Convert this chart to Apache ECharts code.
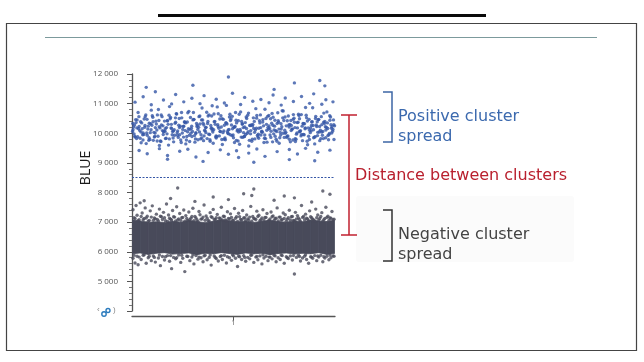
<!DOCTYPE html>
<html>
<head>
<meta charset="utf-8">
<style>
html,body{margin:0;padding:0;background:#fff;}
#chart{width:644px;height:362px;}
</style>
<script src="https://cdn.jsdelivr.net/npm/echarts@6/dist/echarts.min.js"></script>
</head>
<body>
<div id="chart"></div>
<script>
// ---------- data ----------
var yTicks = [4000, 5000, 6000, 7000, 8000, 9000, 10000, 11000, 12000];
var xCategoryLabel = '1';
var yAxisName = 'BLUE';
var thresholdValue = 8500;

var positivePoints = [
[1,10120],[3,9870],[5,10450],[7,10230],[9,9680],[11,10010],[13,10560],[15,9930],[17,10340],[19,10780],
[21,9760],[23,10190],[25,10620],[27,9590],[29,10280],[31,10050],[33,9820],[35,10410],[37,10900],[39,10160],
[41,9710],[43,10370],[45,10080],[47,9950],[49,10520],[51,10240],[53,9640],[55,10690],[57,10130],[59,9890],
[61,10470],[63,10020],[65,9780],[67,10310],[69,10850],[71,9910],[73,10200],[75,10580],[77,9730],[79,10110],
[81,10390],[83,9840],[85,10660],[87,10060],[89,9620],[91,10270],[93,10940],[95,9980],[97,10430],[99,10150],
[101,9690],[103,10350],[105,10040],[107,10720],[109,9860],[111,10210],[113,10500],[115,9570],[117,10090],[119,10300],
[121,9810],[123,10600],[125,10170],[127,9940],[129,10460],[131,10810],[133,9700],[135,10250],[137,10070],[139,10540],
[141,9900],[143,10330],[145,9660],[147,10140],[149,10750],[151,10000],[153,10420],[155,9800],[157,10260],[159,10630],
[161,9720],[163,10180],[165,10490],[167,9960],[169,10320],[171,10870],[173,9610],[175,10100],[177,10380],[179,9850],
[181,10570],[183,10030],[185,9750],[187,10290],[189,10680],[191,10110],[193,9920],[195,10440],[197,10220],[199,9790],
[2,9980],[4,10360],[6,10700],[8,9830],[10,10150],[12,10480],[14,9650],[16,10240],[18,10020],[20,10590],
[22,9870],[24,10310],[26,10800],[28,9740],[30,10090],[32,10410],[34,10190],[36,9600],[38,10530],[40,10060],
[42,9930],[44,10650],[46,10270],[48,9770],[50,10130],[52,10380],[54,9890],[56,10740],[58,10000],[60,10450],
[62,9700],[64,10230],[66,10560],[68,9950],[70,10340],[72,10080],[74,9820],[76,10620],[78,10170],[80,9660],
[82,10300],[84,10890],[86,9910],[88,10210],[90,10470],[92,9780],[94,10050],[96,10550],[98,10280],[100,9850],
[102,10700],[104,10120],[106,9630],[108,10400],[110,10020],[112,9960],[114,10610],[116,10260],[118,9730],[120,10160],
[122,10830],[124,9880],[126,10350],[128,10070],[130,9690],[132,10500],[134,10200],[136,9940],[138,10670],[140,10110],
[142,9800],[144,10420],[146,10030],[148,10760],[150,9860],[152,10250],[154,10580],[156,9710],[158,10140],[160,10370],
[162,9970],[164,10640],[166,10090],[168,9750],[170,10320],[172,10520],[174,9900],[176,10180],[178,10860],[180,9640],
[182,10230],[184,10460],[186,9820],[188,10060],[190,10400],[192,10720],[194,9950],[196,10290],[198,10130],
[0.5,10060],[2.5,10280],[4.5,9820],[6.5,10150],[8.5,10390],[10.5,9950],[12.5,10200],[14.5,10010],[16.5,9760],[18.5,10320],
[20.5,10540],[22.5,9900],[24.5,10110],[26.5,10430],[28.5,9720],[30.5,10250],[32.5,10070],[34.5,9980],[36.5,10610],[38.5,10180],
[40.5,9840],[42.5,10340],[44.5,10020],[46.5,10500],[48.5,9690],[50.5,10230],[52.5,10090],[54.5,10380],[56.5,9930],[58.5,10160],
[60.5,10700],[62.5,9810],[64.5,10270],[66.5,10040],[68.5,10450],[70.5,9750],[72.5,10190],[74.5,10330],[76.5,9960],[78.5,10580],
[80.5,10120],[82.5,9870],[84.5,10290],[86.5,10480],[88.5,9790],[90.5,10080],[92.5,10360],[94.5,10000],[96.5,10640],[98.5,9920],
[100.5,10210],[102.5,10440],[104.5,9740],[106.5,10130],[108.5,10310],[110.5,9890],[112.5,10550],[114.5,10050],[116.5,10260],[118.5,9800],
[120.5,10400],[122.5,10170],[124.5,9970],[126.5,10620],[128.5,10030],[130.5,9830],[132.5,10300],[134.5,10140],[136.5,10490],[138.5,9710],
[140.5,10240],[142.5,10060],[144.5,10370],[146.5,9940],[148.5,10520],[150.5,10100],[152.5,9860],[154.5,10280],[156.5,10430],[158.5,9770],
[160.5,10190],[162.5,10010],[164.5,10600],[166.5,9910],[168.5,10330],[170.5,10150],[172.5,9730],[174.5,10470],[176.5,10080],[178.5,10260],
[180.5,9880],[182.5,10390],[184.5,10040],[186.5,10560],[188.5,9820],[190.5,10220],[192.5,10350],[194.5,9990],[196.5,10170],[198.5,10450],
[0.8,10330],[2.8,9900],[4.8,10180],[6.8,10560],[8.8,10040],[10.8,9770],[12.8,10260],[14.8,10470],[16.8,9850],[18.8,10120],
[20.8,10390],[22.8,10010],[24.8,9740],[26.8,10220],[28.8,10620],[30.8,9960],[32.8,10150],[34.8,10430],[36.8,9810],[38.8,10300],
[40.8,10080],[42.8,10520],[44.8,9930],[46.8,10190],[48.8,10700],[50.8,9870],[52.8,10350],[54.8,10050],[56.8,9720],[58.8,10240],
[60.8,10460],[62.8,9990],[64.8,10130],[66.8,10580],[68.8,9840],[70.8,10280],[72.8,10020],[74.8,10400],[76.8,9780],[78.8,10170],
[80.8,10650],[82.8,9910],[84.8,10230],[86.8,10060],[88.8,10490],[90.8,9800],[92.8,10340],[94.8,10110],[96.8,9950],[98.8,10570],
[100.8,10200],[102.8,9760],[104.8,10420],[106.8,10070],[108.8,10310],[110.8,9890],[112.8,10160],[114.8,10680],[116.8,9980],[118.8,10250],
[120.8,10030],[122.8,10510],[124.8,9830],[126.8,10190],[128.8,10380],[130.8,9940],[132.8,10100],[134.8,10600],[136.8,9860],[138.8,10270],
[140.8,10440],[142.8,9730],[144.8,10140],[146.8,10320],[148.8,10000],[150.8,10550],[152.8,9900],[154.8,10210],[156.8,10090],[158.8,10470],
[160.8,9820],[162.8,10360],[164.8,10050],[166.8,10630],[168.8,9960],[170.8,10180],[172.8,10410],[174.8,9790],[176.8,10260],[178.8,10120],
[180.8,10500],[182.8,9920],[184.8,10230],[186.8,10040],[188.8,10370],[190.8,9850],[192.8,10160],[194.8,10590],[196.8,10010],[198.8,10290],
[1.6,10210],[3.6,10460],[5.6,9880],[7.6,10090],[9.6,10350],[11.6,9960],[13.6,10620],[15.6,10140],[17.6,9790],[19.6,10270],
[21.6,10030],[23.6,10410],[25.6,9900],[27.6,10180],[29.6,10560],[31.6,10070],[33.6,9830],[35.6,10300],[37.6,10490],[39.6,9950],
[41.6,10120],[43.6,10660],[45.6,9860],[47.6,10240],[49.6,10010],[51.6,10380],[53.6,9770],[55.6,10150],[57.6,10530],[59.6,10060],
[61.6,9920],[63.6,10330],[65.6,10200],[67.6,9810],[69.6,10450],[71.6,10100],[73.6,10710],[75.6,9970],[77.6,10260],[79.6,10040],
[81.6,10400],[83.6,9890],[85.6,10170],[87.6,10590],[89.6,10020],[91.6,9840],[93.6,10310],[95.6,10130],[97.6,10480],[99.6,9940],
[101.6,10230],[103.6,10080],[105.6,10640],[107.6,9870],[109.6,10190],[111.6,10360],[113.6,10000],[115.6,9760],[117.6,10280],[119.6,10520],
[121.6,10110],[123.6,9930],[125.6,10420],[127.6,10050],[129.6,10250],[131.6,9820],[133.6,10570],[135.6,10160],[137.6,10340],[139.6,9980],
[141.6,10090],[143.6,10690],[145.6,9850],[147.6,10220],[149.6,10430],[151.6,10030],[153.6,9910],[155.6,10300],[157.6,10140],[159.6,10510],
[161.6,9800],[163.6,10370],[165.6,10060],[167.6,10240],[169.6,9950],[171.6,10610],[173.6,10180],[175.6,10020],[177.6,10390],[179.6,9870],
[181.6,10280],[183.6,10470],[185.6,10100],[187.6,9930],[189.6,10330],[191.6,10200],[193.6,9780],[195.6,10550],[197.6,10070],[199.6,10250],
[3,11050],[7,9420],[11,11230],[15,9310],[19,10960],[23,11400],[27,9480],[31,11120],[35,9250],[39,10990],
[43,11310],[47,9390],[51,11060],[55,9460],[59,11180],[63,9200],[67,11000],[71,11270],[75,9350],[79,10930],
[83,11150],[87,9440],[91,11020],[95,9290],[99,11350],[103,9410],[107,10970],[111,11210],[115,9330],[119,11080],
[123,9470],[127,11140],[131,9220],[135,11030],[139,11290],[143,9380],[147,10950],[151,11190],[155,9450],[159,11070],
[163,9300],[167,11240],[171,9490],[175,11010],[179,11330],[183,9360],[187,10980],[191,11130],[195,9430],[198,11060],
[14,11550],[95,11900],[160,11700],[185,11780],[60,11620],[140,11480],[190,11600],[35,9120],[70,9050],[120,9020],[155,9110],[180,9070],[105,9180]
];

var negBandX    = [0.5,8,16,24,32,40,48,56,64,72,80,88,96,104,112,120,128,136,144,152,160,168,176,184,192,199.5];
var negBandLow  = [5930,5960,5910,5950,5970,5920,5940,5960,5900,5950,5930,5970,5940,5910,5960,5930,5950,5900,5940,5960,5920,5950,5930,5970,5910,5940];
var negBandHigh = [7080,7040,7000,7010,6990,7030,7000,7060,7020,6980,7030,7080,7050,7010,7040,6990,7030,7060,7020,7000,7050,7010,7070,7040,7020,7060];

var negativePoints = [
[1,7420],[2,7150],[4,7560],[5,7230],[7,7080],[8,7650],[10,7310],[12,7120],[13,7480],[15,7200],[17,7060],[18,7380],[20,7550],[22,7140],[24,7270],[25,7090],[27,7440],[29,7180],[31,7330],[33,7050],[34,7610],[36,7240],[38,7100],[40,7390],[42,7170],[44,7520],[45,7070],[47,7290],[49,7150],[51,7410],[53,7220],[55,7060],[56,7340],[58,7130],[60,7470],[62,7190],[64,7080],[66,7360],[67,7250],[69,7110],[71,7580],[73,7210],[75,7050],[77,7320],[79,7160],[80,7430],[82,7090],[84,7260],[86,7140],[88,7500],[90,7200],[92,7070],[94,7350],[95,7120],[97,7280],[99,7060],[101,7460],[103,7180],[105,7300],[107,7090],[109,7390],[111,7150],[113,7240],[115,7070],[117,7530],[119,7190],[121,7110],[123,7370],[125,7230],[127,7080],[129,7420],[131,7160],[133,7290],[135,7060],[137,7340],[139,7210],[141,7120],[143,7480],[145,7170],[147,7070],[149,7310],[151,7250],[153,7100],[155,7400],[157,7180],[159,7060],[161,7330],[163,7220],[165,7090],[167,7560],[169,7190],[171,7270],[173,7110],[175,7380],[177,7150],[179,7070],[181,7440],[183,7240],[185,7120],[187,7320],[189,7080],[191,7500],[193,7200],[195,7140],[197,7360],[199,7100],
[3,7120],[6,7050],[9,7190],[11,7080],[14,7140],[16,7030],[19,7170],[21,7060],[23,7110],[26,7040],[28,7200],[30,7090],[32,7150],[35,7020],[37,7130],[39,7070],[41,7180],[43,7040],[46,7110],[48,7060],[50,7160],[52,7030],[54,7120],[57,7080],[59,7190],[61,7050],[63,7140],[65,7020],[68,7100],[70,7170],[72,7060],[74,7130],[76,7040],[78,7180],[81,7090],[83,7150],[85,7030],[87,7120],[89,7070],[91,7190],[93,7040],[96,7110],[98,7160],[100,7060],[102,7130],[104,7020],[106,7180],[108,7080],[110,7140],[112,7050],[114,7110],[116,7170],[118,7030],[120,7120],[122,7090],[124,7190],[126,7050],[128,7140],[130,7070],[132,7160],[134,7030],[136,7110],[138,7180],[140,7060],[142,7130],[144,7040],[146,7170],[148,7090],[150,7120],[152,7030],[154,7150],[156,7070],[158,7190],[160,7050],[162,7110],[164,7140],[166,7020],[168,7160],[170,7080],[172,7130],[174,7050],[176,7180],[178,7100],[180,7040],[182,7150],[184,7070],[186,7190],[188,7030],[190,7120],[192,7160],[194,7060],[196,7130],[198,7080],
[12,7720],[38,7800],[62,7700],[80,7850],[95,7760],[118,7900],[140,7740],[160,7820],[177,7680],[188,8050],[195,7940],[45,8150],[120,8120],[110,7960],[150,7880],
[1,5780],[3,5620],[5,5850],[6,5560],[9,5740],[11,5880],[14,5610],[16,5800],[19,5700],[21,5860],[23,5650],[26,5790],[28,5530],[30,5840],[32,5720],[35,5870],[37,5680],[39,5430],[41,5810],[43,5760],[46,5890],[48,5640],[50,5780],[52,5330],[54,5850],[57,5700],[59,5820],[61,5590],[63,5870],[65,5750],[68,5800],[70,5660],[72,5880],[74,5730],[76,5810],[78,5550],[81,5860],[83,5770],[85,5690],[87,5840],[89,5740],[91,5880],[93,5620],[96,5800],[98,5710],[100,5860],[102,5780],[104,5500],[106,5830],[108,5740],[110,5870],[112,5680],[114,5810],[116,5760],[118,5890],[120,5640],[122,5820],[124,5730],[126,5860],[128,5590],[130,5790],[132,5850],[134,5700],[136,5820],[138,5760],[140,5880],[142,5660],[144,5800],[146,5740],[148,5870],[150,5610],[152,5830],[154,5770],[156,5860],[158,5720],[160,5250],[162,5810],[164,5880],[166,5690],[168,5790],[170,5850],[172,5740],[174,5610],[176,5830],[178,5780],[180,5870],[182,5700],[184,5820],[186,5880],[188,5660],[190,5790],[192,5850],[194,5730],[196,5800],[198,5860],
[2,5880],[7,5820],[12,5900],[17,5850],[22,5810],[27,5890],[33,5830],[38,5870],[44,5800],[49,5880],[55,5840],[60,5900],[66,5820],[71,5860],[77,5890],[82,5810],[88,5870],[94,5830],[99,5900],[105,5850],[111,5810],[117,5880],[123,5840],[129,5900],[135,5820],[141,5860],[147,5890],[153,5800],[159,5870],[165,5840],[171,5900],[177,5820],[183,5860],[189,5830],[195,5890],[199,5850]
];

// ---------- chart ----------
var BLUE = '#3556a6';
var GREY = '#484a5a';
var negBand = negBandX.map(function (x, i) { return [x, negBandLow[i], negBandHigh[i]]; });

function fmt(v) { return String(v).replace(/\B(?=(\d{3})+(?!\d))/g, ' '); }

var chart = echarts.init(document.getElementById('chart'), null, { renderer: 'canvas' });
chart.setOption({
  animation: false,
  backgroundColor: '#ffffff',
  grid: { left: 132, right: 309, top: 74, bottom: 51 },
  xAxis: {
    type: 'value', min: 0, max: 200,
    offset: 5,
    splitLine: { show: false },
    axisLine: { show: true, lineStyle: { color: '#555', width: 1.3 } },
    axisTick: { show: true, customValues: [100], length: 4, lineStyle: { color: '#555' } },
    axisLabel: { customValues: [100], formatter: function () { return xCategoryLabel; }, fontSize: 7, color: '#555', margin: 3, fontFamily: 'Open Sans' }
  },
  yAxis: {
    type: 'value', min: yTicks[0], max: yTicks[yTicks.length - 1], interval: 1000,
    offset: 7,
    splitLine: { show: false },
    axisLine: { show: true, lineStyle: { color: '#555', width: 1.3 } },
    axisTick: { show: true, length: 5, lineStyle: { color: '#555' } },
    minorTick: { show: true, splitNumber: 5, length: 3, lineStyle: { color: '#777' } },
    axisLabel: {
      fontSize: 8, color: '#555', margin: 7, fontFamily: 'Open Sans',
      formatter: function (v) { return v === yTicks[0] ? '' : fmt(v); }
    }
  },
  series: [
    {
      type: 'custom', data: negBand, silent: true, z: 1,
      encode: { x: 0, y: [1, 2] },
      renderItem: function (params, api) {
        var i = params.dataIndexInside;
        if (i >= params.dataInsideLength - 1) return null;
        var a = api.coord([api.value(0, i), api.value(1, i)]);
        var b = api.coord([api.value(0, i + 1), api.value(1, i + 1)]);
        var c = api.coord([api.value(0, i + 1), api.value(2, i + 1)]);
        var d = api.coord([api.value(0, i), api.value(2, i)]);
        return { type: 'polygon', shape: { points: [a, b, c, d] }, style: { fill: GREY, stroke: GREY, lineWidth: 0.8 } };
      }
    },
    {
      type: 'scatter', data: negativePoints, symbolSize: 3.4, silent: true,
      itemStyle: { color: GREY }, z: 2
    },
    {
      type: 'scatter', data: positivePoints, symbolSize: 3.4, silent: true,
      itemStyle: { color: BLUE }, z: 3,
      markLine: {
        silent: true, symbol: 'none', label: { show: false },
        lineStyle: { color: BLUE, type: [2, 1.5], width: 1 },
        data: [{ yAxis: thresholdValue }]
      }
    }
  ],
  graphic: [
    { type: 'rect', shape: { x: 158, y: 14, width: 328, height: 3 }, style: { fill: '#0a0a0a' }, z: 0 },
    { type: 'rect', shape: { x: 6.5, y: 23.5, width: 630, height: 327 }, style: { fill: 'none', stroke: '#444', lineWidth: 1.2 }, z: 0 },
    { type: 'line', shape: { x1: 45, y1: 37.5, x2: 597, y2: 37.5 }, style: { stroke: '#7c9a9c', lineWidth: 1 }, z: 0 },
    { type: 'rect', shape: { x: 356, y: 196, width: 218, height: 66, r: 3 }, style: { fill: '#fbfbfb' }, z: 0 },
    // axis name
    { type: 'text', x: 86, y: 168, rotation: Math.PI / 2, style: { text: yAxisName, font: '14px "Liberation Sans Narrow", "Open Sans"', fill: '#1a1a1a', align: 'center', verticalAlign: 'middle' } },
    // icon near 4000 tick
    { type: 'text', left: 97, top: 306, style: { text: '‹', fontSize: 8, fill: '#888' } },
    { type: 'circle', shape: { cx: 104, cy: 314, r: 2.2 }, style: { fill: 'none', stroke: '#2b7bbd', lineWidth: 1.4 } },
    { type: 'circle', shape: { cx: 108, cy: 310.5, r: 2 }, style: { fill: 'none', stroke: '#2b7bbd', lineWidth: 1.4 } },
    { type: 'text', left: 113, top: 306, style: { text: ')', fontSize: 8, fill: '#888' } },
    // red bracket
    { type: 'polyline', shape: { points: [[341, 115], [357, 115]] }, style: { stroke: '#c0202f', lineWidth: 1.5, fill: 'none' } },
    { type: 'polyline', shape: { points: [[349, 115], [349, 235]] }, style: { stroke: '#c0202f', lineWidth: 1.5, fill: 'none' } },
    { type: 'polyline', shape: { points: [[341, 235], [357, 235]] }, style: { stroke: '#c0202f', lineWidth: 1.5, fill: 'none' } },
    { type: 'text', x: 355, y: 176, style: { text: 'Distance between clusters', font: '16px "DejaVu Sans"', fill: '#b9202e', verticalAlign: 'middle' } },
    // blue bracket
    { type: 'polyline', shape: { points: [[383, 92], [392, 92], [392, 142], [383, 142]] }, style: { stroke: '#3c66a5', lineWidth: 1.5, fill: 'none' } },
    { type: 'text', x: 398, y: 117, style: { text: 'Positive cluster', font: '16px "DejaVu Sans"', fill: '#3b69ae', verticalAlign: 'middle' } },
    { type: 'text', x: 398, y: 137, style: { text: 'spread', font: '16px "DejaVu Sans"', fill: '#3b69ae', verticalAlign: 'middle' } },
    // black bracket
    { type: 'polyline', shape: { points: [[383, 210], [392, 210], [392, 261], [383, 261]] }, style: { stroke: '#333', lineWidth: 1.5, fill: 'none' } },
    { type: 'text', x: 398, y: 235, style: { text: 'Negative cluster', font: '16px "DejaVu Sans"', fill: '#444', verticalAlign: 'middle' } },
    { type: 'text', x: 398, y: 255, style: { text: 'spread', font: '16px "DejaVu Sans"', fill: '#444', verticalAlign: 'middle' } }
  ]
});
</script>
</body>
</html>
